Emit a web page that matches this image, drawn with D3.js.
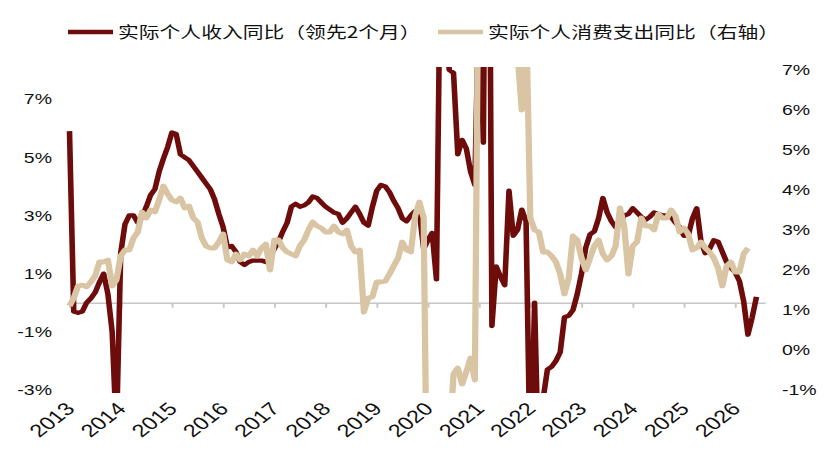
<!DOCTYPE html>
<html>
<head>
<meta charset="utf-8">
<script src="https://cdn.jsdelivr.net/npm/d3@7"></script>
<style>
  html, body { margin: 0; padding: 0; background: #fff; }
  svg { display: block; }
</style>
</head>
<body>
<svg id="chart"></svg>
<script>
// The source chart looks drawn narrow and stretched sideways, so draw in a narrow box
const stretch = 1.3;
const outerW = 828, outerH = 462;
const W = outerW / stretch;

// Year tick labels (one tick every 12 months, Jan 2013 = month 0)
const years = ["2013", "2014", "2015", "2016", "2017", "2018", "2019",
  "2020", "2021", "2022", "2023", "2024", "2025", "2026"];
const leftTicks = [7, 5, 3, 1, -1, -3];
const rightTicks = [7, 6, 5, 4, 3, 2, 1, 0, -1];

// Real personal income YoY, shifted 2 months ahead (%), monthly from 2013-01
const income = [
  5.9, -0.3, -0.35, -0.3, 0.0, 0.15, 0.35, 0.7, 1.0, 0.3, -1.0, -4.5,
  1.7, 2.7, 3.0, 3.0, 2.75, 2.95, 3.3, 3.7, 3.9, 4.5, 4.95, 5.35,
  5.85, 5.8, 5.1, 5.0, 4.9, 4.7, 4.5, 4.3, 4.1, 3.9, 3.55, 3.05,
  2.6, 1.9, 1.95, 1.75, 1.4, 1.3, 1.4, 1.45, 1.45, 1.45, 1.4, 1.6,
  1.85, 2.1, 2.45, 2.75, 3.3, 3.4, 3.3, 3.35, 3.45, 3.65, 3.6, 3.45,
  3.3, 3.2, 3.1, 3.05, 2.75, 2.9, 3.1, 3.3, 3.05, 2.75, 2.65, 3.3,
  3.85, 4.05, 4.0, 3.8, 3.5, 3.25, 2.9, 2.8, 3.0, 3.15, 3.1, 1.85,
  2.15, 2.4, 0.8, 13, 10, 8.0, 7.9, 5.1, 5.6, 5.3, 4.5, 4.05,
  11, 5.5, 25, -0.8, 1.25, 0.9, 0.6, 3.85, 2.3, 2.5, 3.2, 2.8,
  -6, 0.0, -6, -3.3, -2.3, -2.2, -2.0, -1.7, -0.5, -0.45, -0.25, 0.3,
  1.0, 1.9, 2.35, 2.45, 2.9, 3.6, 3.1, 2.8, 2.6, 2.75, 3.0, 3.05,
  3.25, 3.1, 2.95, 2.85, 2.95, 3.1, 3.05, 3.0, 3.0, 2.95, 2.75, 2.6,
  2.3, 2.3, 2.9, 3.25, 2.1, 1.7, 1.85, 2.15, 2.1, 1.75, 1.4, 1.2,
  1.05, 0.75, 0.05, -1.1, -0.5, 0.2
];

// Real personal consumption expenditure YoY (%), right axis, monthly from 2013-01
const spending = [
  1.1, 1.3, 1.6, 1.62, 1.58, 1.7, 1.85, 2.2, 2.2, 2.25, 1.6, 1.75,
  2.35, 2.5, 2.5, 2.8, 2.95, 3.45, 3.3, 3.5, 3.45, 3.75, 4.1, 3.9,
  3.75, 3.7, 3.8, 3.55, 3.6, 3.3, 3.2, 2.8, 2.6, 2.55, 2.55, 2.7,
  2.9, 2.25, 2.2, 2.4, 2.25, 2.4, 2.35, 2.5, 2.35, 2.55, 2.65, 2.0,
  2.75, 2.75, 2.55, 2.45, 2.4, 2.35, 2.6, 2.75, 3.0, 3.2, 3.1, 3.05,
  2.95, 2.95, 3.1, 2.95, 2.9, 3.0, 2.6, 2.45, 2.5, 0.95, 1.3, 1.33,
  1.7, 1.7, 1.72, 1.9, 2.1, 2.3, 2.7, 2.5, 2.45, 3.35, 3.7, 3.3,
  -6, -17, -9, -5, -3, -2.5, -0.6, -0.45, -0.85, -0.55, -0.2, -0.75,
  12, 28, 19, 12, 9.5, 8.5, 8.0, 7.8, 7.5, 7.4, 6.0, 8.5,
  3.3, 3.0, 2.95, 2.45, 2.45, 2.35, 2.2, 1.9, 1.4, 1.8, 2.85, 2.75,
  2.3, 2.0, 2.3, 2.6, 2.75, 2.4, 2.25, 2.35, 2.6, 3.55, 3.1, 1.9,
  2.6, 2.7, 3.3, 3.1, 3.1, 3.0, 3.4, 3.3, 3.3, 3.5, 3.35, 2.95,
  3.05, 2.9, 2.5, 2.55, 2.7, 2.55, 2.45, 2.3, 2.05, 1.6, 2.1, 2.2,
  1.95, 1.95, 2.4, 2.55
];

const incomeColor = "#6e0c0c";
const spendColor = "#d9c4a3";
const numFont = "'Liberation Sans', Arial, sans-serif";
const cjkFont = "'Noto Sans CJK SC', 'Noto Sans', sans-serif";

const svg = d3.select("#chart")
  .attr("width", outerW)
  .attr("height", outerH)
  .attr("viewBox", `0 0 ${W} ${outerH}`)
  .attr("preserveAspectRatio", "none");

// Scales
const x = d3.scaleLinear().domain([0, 163]).range([69.5 / stretch, 765 / stretch]);
const yL = d3.scaleLinear().domain([-3, 8]).range([390, 70]);
const yR = d3.scaleLinear().domain([-1, 7]).range([390, 70]);

// Clip the lines to the plot area
svg.append("defs").append("clipPath").attr("id", "plot-clip")
  .append("rect")
  .attr("x", x(0) - 3)
  .attr("y", 67)
  .attr("width", x(163) - x(0) + 6)
  .attr("height", 326);

// Zero line with year ticks
const xAxis = svg.append("g")
  .attr("transform", `translate(0,${yL(0)})`)
  .call(d3.axisBottom(x)
    .tickValues(years.map((d, i) => i * 12))
    .tickSize(5)
    .tickSizeOuter(0)
    .tickFormat(""));
xAxis.selectAll("path, line").attr("stroke", "#c6c6c6").attr("stroke-width", 1.5);

// Year labels, rotated
svg.selectAll(".year-label")
  .data(years)
  .enter()
  .append("text")
  .attr("class", "year-label")
  .attr("transform", (d, i) => `translate(${x(i * 12) + 5},410) rotate(-45)`)
  .attr("text-anchor", "end")
  .style("font-family", numFont)
  .style("font-size", "18px")
  .attr("fill", "#111")
  .text((d) => d);

// Left axis
const leftAxis = svg.append("g")
  .attr("transform", `translate(43,0)`)
  .call(d3.axisLeft(yL).tickValues(leftTicks).tickSize(0).tickFormat((d) => d + "%"));
leftAxis.select(".domain").remove();
leftAxis.selectAll("text")
  .style("font-family", numFont)
  .style("font-size", "15px")
  .attr("fill", "#111");

// Right axis
const rightAxis = svg.append("g")
  .attr("transform", `translate(${782 / stretch - 3},0)`)
  .call(d3.axisRight(yR).tickValues(rightTicks).tickSize(0).tickFormat((d) => d + "%"));
rightAxis.select(".domain").remove();
rightAxis.selectAll("text")
  .style("font-family", numFont)
  .style("font-size", "15px")
  .attr("fill", "#111");

// Lines
const plot = svg.append("g").attr("clip-path", "url(#plot-clip)");

const incomeLine = d3.line().x((d, i) => x(i)).y((d) => yL(d));
const spendLine = d3.line().x((d, i) => x(i)).y((d) => yR(d));

plot.append("path")
  .datum(income)
  .attr("fill", "none")
  .attr("stroke", incomeColor)
  .attr("stroke-width", 4.3)
  .attr("stroke-linejoin", "round")
  .attr("d", incomeLine);

plot.append("path")
  .datum(spending)
  .attr("fill", "none")
  .attr("stroke", spendColor)
  .attr("stroke-width", 4.8)
  .attr("stroke-linejoin", "round")
  .attr("d", spendLine);

// Legend
const legend = [
  { label: "实际个人收入同比（领先2个月）", color: incomeColor, x0: 68 },
  { label: "实际个人消费支出同比（右轴）", color: spendColor, x0: 438 },
];

const items = svg.selectAll(".legend")
  .data(legend)
  .enter()
  .append("g")
  .attr("class", "legend")
  .attr("transform", (d) => `translate(${d.x0 / stretch},32)`);

items.append("line")
  .attr("x1", 0)
  .attr("x2", 45 / stretch)
  .attr("y1", 0)
  .attr("y2", 0)
  .attr("stroke", (d) => d.color)
  .attr("stroke-width", 4.5);

items.append("text")
  .attr("x", 50 / stretch)
  .attr("y", 0)
  .attr("dy", "0.36em")
  .style("font-family", cjkFont)
  .style("font-size", "16px")
  .attr("fill", "#111")
  .text((d) => d.label);
</script>
</body>
</html>
